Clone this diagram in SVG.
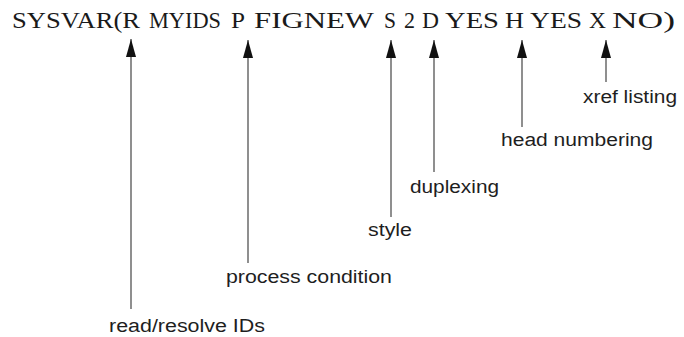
<svg xmlns="http://www.w3.org/2000/svg" width="684" height="337" viewBox="0 0 684 337">
  <style>
    .cmd { font-family: "Liberation Serif", "Times New Roman", serif; font-size: 23px; fill: #1a1a1a; }
    .lbl { font-family: "Liberation Sans", Arial, sans-serif; font-size: 18px; fill: #1e1e1e; }
    .stem { stroke: #333; stroke-width: 1.1; fill: none; }
  </style>
  <defs>
    <!-- solid triangular head, drawn along +x so orient="auto" points it up the stem -->
    <marker id="head" viewBox="0 0 18 10" refX="18" refY="5" markerWidth="18" markerHeight="10" markerUnits="userSpaceOnUse" orient="auto">
      <path d="M0 0 L18 5 L0 10 Z" fill="#111"/>
    </marker>
  </defs>

  <rect width="684" height="337" fill="#fff"/>

  <!-- command line -->
  <g id="command">
    <text class="cmd" x="12" y="28" textLength="128" lengthAdjust="spacingAndGlyphs">SYSVAR(R</text>
    <text class="cmd" x="149" y="28" textLength="72" lengthAdjust="spacingAndGlyphs">MYIDS</text>
    <text class="cmd" x="231" y="28" textLength="14" lengthAdjust="spacingAndGlyphs">P</text>
    <text class="cmd" x="254" y="28" textLength="120" lengthAdjust="spacingAndGlyphs">FIGNEW</text>
    <text class="cmd" x="384" y="28" textLength="12" lengthAdjust="spacingAndGlyphs">S</text>
    <text class="cmd" x="404" y="28" textLength="11" lengthAdjust="spacingAndGlyphs">2</text>
    <text class="cmd" x="422" y="28" textLength="17" lengthAdjust="spacingAndGlyphs">D</text>
    <text class="cmd" x="445" y="28" textLength="54" lengthAdjust="spacingAndGlyphs">YES</text>
    <text class="cmd" x="505" y="28" textLength="19" lengthAdjust="spacingAndGlyphs">H</text>
    <text class="cmd" x="530" y="28" textLength="52" lengthAdjust="spacingAndGlyphs">YES</text>
    <text class="cmd" x="589" y="28" textLength="17" lengthAdjust="spacingAndGlyphs">X</text>
    <text class="cmd" x="612" y="28" textLength="63" lengthAdjust="spacingAndGlyphs">NO)</text>
  </g>

  <!-- pointer arrows -->
  <g id="connectors">
    <line class="stem" x1="131" y1="309" x2="131" y2="39" marker-end="url(#head)"/>
    <line class="stem" x1="248" y1="263" x2="248" y2="40" marker-end="url(#head)"/>
    <line class="stem" x1="391" y1="217" x2="391" y2="40" marker-end="url(#head)"/>
    <line class="stem" x1="434" y1="172" x2="434" y2="40" marker-end="url(#head)"/>
    <line class="stem" x1="522" y1="127" x2="522" y2="40" marker-end="url(#head)"/>
    <line class="stem" x1="606" y1="82" x2="606" y2="40" marker-end="url(#head)"/>
  </g>

  <!-- labels -->
  <g id="xref"><text class="lbl" x="583" y="103" textLength="94" lengthAdjust="spacingAndGlyphs">xref listing</text></g>
  <g id="head-numbering"><text class="lbl" x="501" y="146" textLength="152" lengthAdjust="spacingAndGlyphs">head numbering</text></g>
  <g id="duplexing"><text class="lbl" x="410" y="193" textLength="89" lengthAdjust="spacingAndGlyphs">duplexing</text></g>
  <g id="style"><text class="lbl" x="368" y="236" textLength="44" lengthAdjust="spacingAndGlyphs">style</text></g>
  <g id="process-condition"><text class="lbl" x="226" y="283" textLength="166" lengthAdjust="spacingAndGlyphs">process condition</text></g>
  <g id="read-resolve"><text class="lbl" x="109" y="332" textLength="156" lengthAdjust="spacingAndGlyphs">read/resolve IDs</text></g>
</svg>
